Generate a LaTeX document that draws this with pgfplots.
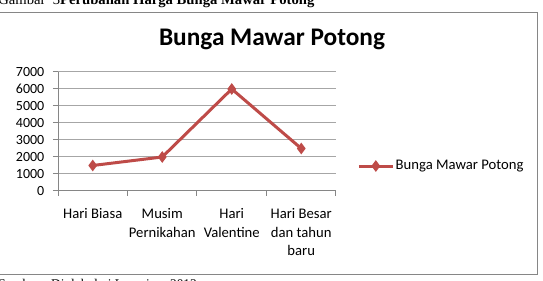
\documentclass[border=0pt]{standalone}
\usepackage{pgfplots}
\pgfplotsset{compat=1.18}
\usepackage{fontspec}
\setmainfont{Carlito}
\newfontfamily\timesfont{Liberation Serif}
\definecolor{serred}{HTML}{BE4B48}
\definecolor{axgray}{HTML}{868686}
\definecolor{gridgray}{HTML}{A6A6A6}
\begin{document}
\begin{tikzpicture}
\useasboundingbox (0pt,0pt) rectangle (407.25pt,210.75pt);
\clip (0pt,0pt) rectangle (407.25pt,210.75pt);
\draw[axgray, line width=0.75pt] (-7.5pt,201pt) rectangle (402.75pt,4.5pt);
\node[anchor=base west, inner sep=0, font=\timesfont\fontsize{11}{13}\selectfont] at (-1.5pt,207pt) {Gambar\ \ 3\textbf{Perubahan Harga Bunga Mawar Potong}};
\node[anchor=base west, inner sep=0, font=\timesfont\fontsize{10}{12}\selectfont] at (-1.5pt,-6pt) {Sumber : Diolah dari Lampiran 2013};
\node[font=\bfseries\fontsize{19}{23}\selectfont, anchor=base, inner sep=0] at (204pt,176.5pt) {Bunga Mawar Potong};
\begin{axis}[
  at={(43.5pt,67.5pt)}, anchor=south west,
  scale only axis, width=208.5pt, height=89.25pt,
  xmin=-0.5, xmax=3.5, ymin=0, ymax=7000,
  axis lines*=left,
  axis line style={axgray, line width=0.75pt},
  xtick={0,1,2,3},
  xticklabels={Hari Biasa,{Musim\\Pernikahan},{Hari\\Valentine},{Hari Besar\\dan tahun\\baru}},
  major x tick style={draw=none},
  minor xtick={-0.5,0.5,1.5,2.5,3.5},
  ytick={0,1000,...,7000},
  tick align=outside, major tick length=3.75pt, minor tick length=3.75pt,
  tick style={axgray, line width=0.75pt},
  ymajorgrids, grid style={gridgray, line width=0.75pt},
  /pgf/number format/1000 sep={},
  /pgf/number format/assume math mode=true,
  yticklabel style={font=\fontsize{10.5}{12}\selectfont, xshift=-3pt},
  xticklabel style={font=\fontsize{11}{14.2}\selectfont, align=center, anchor=north, yshift=-5.5pt},
  legend style={at={(1.0755,0.21)}, anchor=west, draw=none, fill=none, font=\fontsize{11}{13}\selectfont, inner sep=0pt, nodes={inner sep=1pt}},
  legend image code/.code={\draw[mark repeat=2,mark phase=2] plot coordinates {(0cm,0cm)(0.45cm,0cm)(0.9cm,0cm)};},
  clip=false,
]
\addplot[serred, line width=2.25pt, mark=diamond*, mark size=3.8pt, mark options={solid, line width=0.75pt}] coordinates {(0,1500)(1,2000)(2,6000)(3,2500)};
\addlegendentry{Bunga Mawar Potong}
\end{axis}
\end{tikzpicture}
\end{document}
